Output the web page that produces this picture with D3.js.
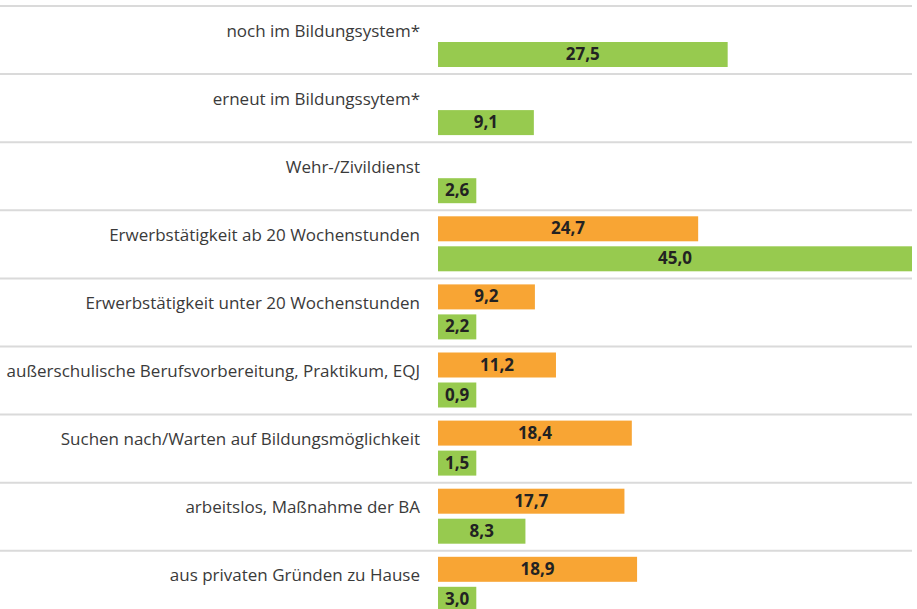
<!DOCTYPE html>
<html>
<head>
<meta charset="utf-8">
<script src="https://cdn.jsdelivr.net/npm/d3@7"></script>
<style>
  body { margin: 0; background: #fff; }
  svg { display: block; }
</style>
</head>
<body>
<svg id="chart"></svg>
<script>
// categories, top to bottom
const categories = [
    'noch im Bildungsystem*',
    'erneut im Bildungssytem*',
    'Wehr-/Zivildienst',
    'Erwerbstätigkeit ab 20 Wochenstunden',
    'Erwerbstätigkeit unter 20 Wochenstunden',
    'außerschulische Berufsvorbereitung, Praktikum, EQJ',
    'Suchen nach/Warten auf Bildungsmöglichkeit',
    'arbeitslos, Maßnahme der BA',
    'aus privaten Gründen zu Hause'
];

// two series (orange first, green second); null = no bar
const seriesKeys = ['orange', 'green'];
const orangeValues = [null, null, null, 24.7, 9.2, 11.2, 18.4, 17.7, 18.9];
const greenValues = [27.5, 9.1, 2.6, 45.0, 2.2, 0.9, 1.5, 8.3, 3.0];

const colors = {orange: '#f8a534', green: '#97ca4f'};

const width = 917;
const height = 609;

const svg = d3.select('#chart')
    .attr('width', width)
    .attr('height', height);

const xscale = d3.scaleLinear()
    .domain([0, 45])
    .range([438, 912]);

const rowStep = 68.1;
const yscale = d3.scaleBand()
    .domain(categories)
    .range([6, 6 + rowStep * categories.length])
    .padding(0);

const inner = d3.scaleBand()
    .domain(seriesKeys)
    .range([6, 61])
    .paddingInner(1 / 6);

// separator lines
svg.append('g')
    .selectAll('line')
    .data(categories)
    .enter()
    .append('line')
    .attr('x1', 0)
    .attr('x2', 912)
    .attr('y1', d => yscale(d))
    .attr('y2', d => yscale(d))
    .attr('stroke', '#dadada')
    .attr('stroke-width', 2);

// category labels
svg.append('g')
    .selectAll('text')
    .data(categories)
    .enter()
    .append('text')
    .attr('x', 420)
    .attr('y', d => yscale(d) + 26)
    .attr('text-anchor', 'end')
    .attr('dominant-baseline', 'middle')
    .style('font-family', '"Open Sans", sans-serif')
    .style('font-size', '17px')
    .style('fill', '#3a3a3a')
    .text(d => d);

const bars = [];
categories.forEach((c, i) => {
    if (orangeValues[i] != null) bars.push({cat: c, key: 'orange', value: orangeValues[i]});
    if (greenValues[i] != null) bars.push({cat: c, key: 'green', value: greenValues[i]});
});

const fmt = v => d3.format('.1f')(v).replace('.', ',');

const groups = svg.append('g')
    .selectAll('g')
    .data(bars)
    .enter()
    .append('g')
    .attr('transform', d => `translate(0, ${yscale(d.cat) + inner(d.key)})`);

const rects = groups.append('rect')
    .attr('x', xscale(0))
    .attr('y', 0)
    .attr('height', inner.bandwidth())
    .attr('fill', d => colors[d.key]);

const labels = groups.append('text')
    .attr('y', inner.bandwidth() / 2 + 1)
    .attr('text-anchor', 'middle')
    .attr('dominant-baseline', 'middle')
    .style('font-family', '"Open Sans", sans-serif')
    .style('font-weight', 'bold')
    .style('font-size', '17px')
    .style('fill', '#222')
    .text(d => fmt(d.value));

// short bars are widened so the label fits
labels.each(function(d) {
    const tw = this.getComputedTextLength();
    d.w = Math.max(xscale(d.value) - xscale(0), tw + 14);
});

rects.attr('width', d => d.w);
labels.attr('x', d => xscale(0) + d.w / 2);
</script>
</body>
</html>
